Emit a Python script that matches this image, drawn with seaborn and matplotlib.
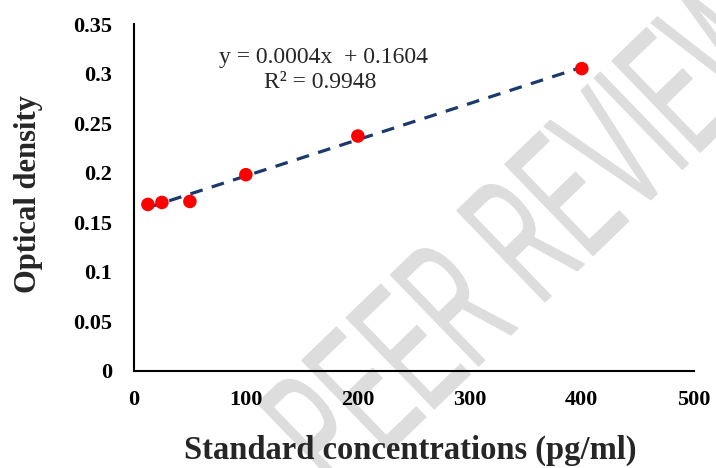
import numpy as np
import pandas as pd
import matplotlib
matplotlib.use("Agg")
import matplotlib.pyplot as plt
from matplotlib.patheffects import AbstractPathEffect
from matplotlib.transforms import Affine2D
import seaborn as sns

# Standard curve: concentration (pg/ml) vs optical density
concentrations = [12.5, 25, 50, 100, 200, 400]
optical_density = [0.168, 0.170, 0.171, 0.198, 0.237, 0.305]
x_ticks = [0, 100, 200, 300, 400, 500]
y_ticks = [0, 0.05, 0.1, 0.15, 0.2, 0.25, 0.3, 0.35]
y_tick_labels = ["0", "0.05", "0.1", "0.15", "0.2", "0.25", "0.3", "0.35"]
equation_text = "y = 0.0004x  + 0.1604"
r2_text = "R² = 0.9948"
watermark_text = "PEER REVIEW"

df = pd.DataFrame({"conc": concentrations, "od": optical_density})

sns.set_theme(style="white")
plt.rcParams["font.family"] = ["Liberation Serif", "DejaVu Serif"]


class BaselineSqueeze(AbstractPathEffect):
    """Narrow a rotated text along its baseline (about its anchor) and give
    the glyphs a soft rounded outline."""

    def __init__(self, text, factor, angle, stroke):
        super().__init__()
        self.text = text
        self.factor = factor
        self.angle = angle
        self.stroke = stroke

    def draw_path(self, renderer, gc, tpath, affine, rgbFace=None):
        cx, cy = self.text.get_transform().transform(self.text.get_position())
        squeeze = (Affine2D().translate(-cx, -cy).rotate_deg(-self.angle)
                   .scale(self.factor, 1.0).rotate_deg(self.angle)
                   .translate(cx, cy))
        gc0 = renderer.new_gc()
        gc0.copy_properties(gc)
        gc0.set_linewidth(self.stroke)
        gc0.set_foreground(rgbFace)
        gc0.set_joinstyle("round")
        gc0.set_capstyle("round")
        renderer.draw_path(gc0, tpath, affine + squeeze, rgbFace)
        gc0.restore()


fig = plt.figure(figsize=(7.16, 4.68), dpi=100)
ax = fig.add_axes([0.187, 0.2073, 0.782, 0.7414])
ax.patch.set_visible(False)

# Trend line (least squares fit over the data range)
sns.regplot(data=df, x="conc", y="od", ax=ax, scatter=False, ci=None,
            truncate=True,
            line_kws=dict(color="#1b3a6b", lw=2.3, ls=(0, (4.0, 3.0)), zorder=3))
sns.scatterplot(data=df, x="conc", y="od", ax=ax, color="#ff0000",
                s=95, edgecolor="none", zorder=4)

ax.set_xlim(0, 500)
ax.set_ylim(0, 0.35)
ax.set_xticks(x_ticks)
ax.set_xticklabels([str(t) for t in x_ticks])
ax.set_yticks(y_ticks)
ax.set_yticklabels(y_tick_labels)

for side in ("top", "right"):
    ax.spines[side].set_visible(False)
for side in ("left", "bottom"):
    ax.spines[side].set_color("black")
    ax.spines[side].set_linewidth(1.5)

ax.tick_params(axis="both", direction="out", width=1.5, colors="black",
               labelsize=16)
ax.tick_params(axis="y", length=5.5, pad=10)
ax.tick_params(axis="x", length=4, pad=10)
for lbl in ax.get_xticklabels() + ax.get_yticklabels():
    lbl.set_fontweight("bold")

ax.set_xlabel("Standard concentrations (pg/ml)", fontsize=23.5,
              fontweight="bold", va="top")
ax.set_ylabel("Optical density", fontsize=22, fontweight="bold")
ax.xaxis.set_label_coords(0.493, -0.185)
ax.yaxis.set_label_coords(-0.162, 0.51)

ax.text(169.6, 0.3167, equation_text, fontsize=17, ha="center", va="center")
ax.text(166, 0.2905, r2_text, fontsize=17, ha="center", va="center")

# Diagonal watermark behind everything
wm_angle = 44
wm = fig.text(571 / 716, 1 - 277 / 468, watermark_text, fontsize=133,
              family="Liberation Sans", color="#dddddd", rotation=wm_angle,
              rotation_mode="anchor", ha="center", va="baseline", zorder=-1)
wm.set_path_effects([BaselineSqueeze(wm, 0.5, wm_angle, 0.8)])

fig.savefig("out.png", dpi=100)
